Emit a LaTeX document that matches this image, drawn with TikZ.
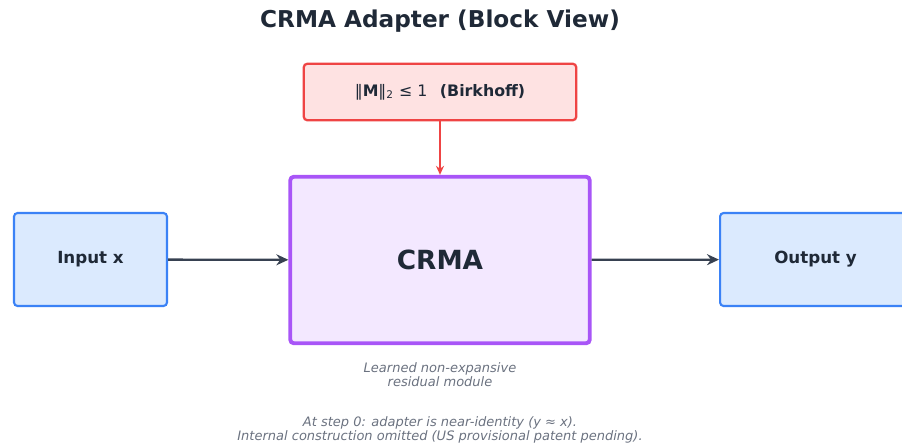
\documentclass[tikz,border=0pt]{standalone}
\usepackage{fontspec}
\setmainfont{DejaVu Sans}
\usepackage{tikz}
\usetikzlibrary{arrows.meta, positioning}
\definecolor{cInk}{HTML}{1F2937}
\definecolor{cNote}{HTML}{6B7280}
\definecolor{cWire}{HTML}{374151}
\definecolor{cBlue}{HTML}{3B82F6}
\definecolor{cBlueFill}{HTML}{DBEAFE}
\definecolor{cRed}{HTML}{EF4444}
\definecolor{cRedFill}{HTML}{FEE2E2}
\definecolor{cPurple}{HTML}{A855F7}
\definecolor{cPurpleFill}{HTML}{F3E8FF}
\tikzset{
	iobox/.style    ={rectangle, rounded corners=2pt, draw=cBlue, line width=1.2pt, fill=cBlueFill, text=cInk, font=\fontsize{9.5}{11}\selectfont\bfseries, align=center},
	corebox/.style  ={rectangle, rounded corners=2pt, draw=cPurple, line width=2.2pt, fill=cPurpleFill, text=cInk, font=\fontsize{15}{18}\selectfont\bfseries},
	boundbox/.style ={rectangle, rounded corners=2pt, draw=cRed, line width=1.3pt, fill=cRedFill, text=cInk, font=\fontsize{9}{11}\selectfont},
	note/.style     ={text=cNote, font=\fontsize{7.4}{8}\selectfont\itshape, align=center},
	sig/.style      ={-{Stealth[length=2.4mm, width=2.2mm]}, line width=1.3pt, draw=cWire},
	bnd/.style      ={-{Stealth[length=1.8mm, width=1.6mm]}, line width=0.9pt, draw=cRed},
}

\begin{document}
\begin{tikzpicture}[x=0.02cm, y=0.02cm]
	\useasboundingbox (0,0) rectangle (902,-444);
	\node[text=cInk, font=\fontsize{13.2}{15}\selectfont\bfseries] (title) at (440,-21) {CRMA Adapter (Block View)};
	\node[corebox, minimum width=5.99cm, minimum height=3.33cm] (core) at (440,-260) {CRMA};
	\node[boundbox, minimum width=5.45cm, minimum height=1.13cm] (bound) at (440,-92)
		{‖\textbf{M}‖\textsubscript{2} ≤ 1\hspace{0.8em}\textbf{(Birkhoff)}};
	\node[iobox, minimum width=3.06cm, minimum height=1.86cm] (in) at (90.5,-259.5) {Input x};
	\node[iobox, minimum width=3.8cm, minimum height=1.86cm, anchor=west] (out) at (719,-259.5) {\hspace{0.02cm}Output y};
	\node[note, below=0.22cm of core] (role) {Learned non-expansive\\residual module};
	\node[note] (init) at (440,-430) {At step 0: adapter is near-identity (y ≈ x).\\Internal construction omitted (US provisional patent pending).};
	\draw[bnd] (bound) -- (core);
	\draw[sig] (in) -- (core);
	\draw[sig] (core) -- (out);
\end{tikzpicture}
\end{document}
